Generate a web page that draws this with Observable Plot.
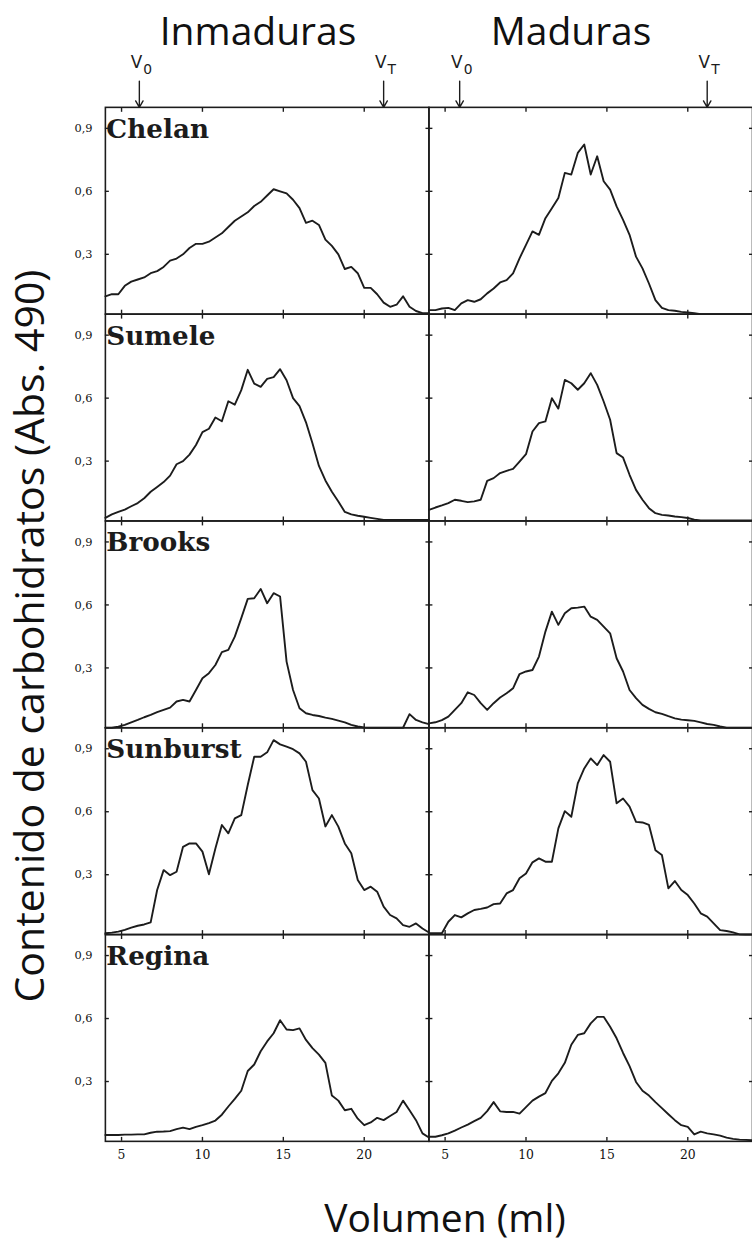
<!DOCTYPE html>
<html>
<head>
<meta charset="utf-8">
<script src="https://cdn.jsdelivr.net/npm/d3@7"></script>
<script src="https://cdn.jsdelivr.net/npm/@observablehq/plot@0.6"></script>
<style>
  body { margin: 0; background: #fff; }
  #wrap { position: relative; width: 752px; height: 1247px; overflow: hidden; background: #fff; font-family: "Open Sans", sans-serif; color: #111; }
  .t { position: absolute; white-space: nowrap; line-height: 1; }
  #plot { position: absolute; left: 0; top: 0; }
</style>
</head>
<body>
<div id="wrap">
  <div id="plot"></div>
  <div class="t" id="tInm" style="left:258px;top:10px;font-size:39px;transform:translateX(-50%);">Inmaduras</div>
  <div class="t" id="tMad" style="left:571px;top:10px;font-size:39px;transform:translateX(-50%);">Maduras</div>
  <div class="t" id="yLab" style="left:29px;top:636px;font-size:41px;line-height:1.1;transform:translate(-50%,-50%) rotate(-90deg);">Contenido de carbohidratos (Abs. 490)</div>
  <div class="t" id="xLab" style="left:445px;top:1197px;font-size:39px;transform:translateX(-50%);">Volumen (ml)</div>
</div>
<script>
// ---- data ----
const cultivars = ["Chelan", "Sumele", "Brooks", "Sunburst", "Regina"];
const stages = ["Inmaduras", "Maduras"];
const xTicks = [5, 10, 15, 20];
const yTicks = [0.3, 0.6, 0.9];

// elution volume (ml) of each reading
const vol = [4.0,4.4,4.8,5.2,5.6,6.0,6.4,6.8,7.2,7.6,8.0,8.4,8.8,9.2,9.6,10.0,10.4,10.8,11.2,11.6,12.0,12.4,12.8,13.2,13.6,14.0,14.4,14.8,15.2,15.6,16.0,16.4,16.8,17.2,17.6,18.0,18.4,18.8,19.2,19.6,20.0,20.4,20.8,21.2,21.6,22.0,22.4,22.8,23.2,23.6,24.0];

const chelanInm = [0.10,0.11,0.11,0.15,0.17,0.18,0.19,0.21,0.22,0.24,0.27,0.28,0.30,0.33,0.35,0.35,0.36,0.38,0.40,0.43,0.46,0.48,0.50,0.53,0.55,0.58,0.61,0.60,0.59,0.56,0.52,0.45,0.46,0.44,0.37,0.34,0.30,0.23,0.24,0.21,0.14,0.14,0.11,0.07,0.05,0.06,0.10,0.05,0.03,0.02,0.02];
const chelanMad = [0.034,0.034,0.042,0.045,0.034,0.066,0.082,0.074,0.086,0.114,0.137,0.166,0.177,0.209,0.281,0.345,0.409,0.393,0.472,0.52,0.568,0.688,0.68,0.783,0.823,0.68,0.767,0.648,0.608,0.528,0.464,0.393,0.289,0.233,0.161,0.082,0.045,0.034,0.031,0.026,0.023,0.02,0.015,0.015,0.015,0.015,0.015,0.015,0.015,0.015,0.015];
const sumeleInm = [0.03,0.046,0.058,0.069,0.085,0.10,0.123,0.154,0.177,0.20,0.231,0.285,0.30,0.331,0.377,0.438,0.454,0.508,0.49,0.585,0.569,0.638,0.735,0.669,0.654,0.692,0.70,0.738,0.685,0.60,0.562,0.485,0.385,0.277,0.208,0.154,0.108,0.058,0.046,0.04,0.035,0.03,0.025,0.02,0.02,0.02,0.02,0.02,0.02,0.02,0.02];
const sumeleMad = [0.068,0.079,0.089,0.10,0.116,0.111,0.105,0.108,0.116,0.206,0.219,0.243,0.254,0.263,0.298,0.333,0.441,0.481,0.489,0.60,0.55,0.687,0.671,0.64,0.671,0.719,0.663,0.584,0.497,0.338,0.317,0.235,0.163,0.116,0.076,0.052,0.044,0.041,0.036,0.033,0.029,0.021,0.018,0.018,0.018,0.018,0.018,0.018,0.018,0.018,0.018];
const brooksInm = [0.015,0.015,0.02,0.029,0.041,0.052,0.065,0.076,0.089,0.10,0.111,0.14,0.148,0.14,0.195,0.251,0.275,0.314,0.375,0.386,0.449,0.537,0.629,0.632,0.676,0.608,0.656,0.64,0.33,0.195,0.108,0.084,0.076,0.071,0.063,0.057,0.049,0.041,0.029,0.021,0.016,0.015,0.015,0.015,0.015,0.015,0.015,0.08,0.052,0.041,0.032];
const brooksMad = [0.036,0.041,0.051,0.068,0.10,0.132,0.184,0.171,0.132,0.10,0.132,0.159,0.179,0.203,0.271,0.283,0.29,0.354,0.473,0.568,0.505,0.56,0.584,0.587,0.592,0.544,0.529,0.497,0.465,0.346,0.283,0.195,0.156,0.124,0.105,0.089,0.081,0.07,0.06,0.054,0.051,0.048,0.041,0.033,0.029,0.021,0.015,0.015,0.015,0.015,0.015];
const sunburstInm = [0.021,0.024,0.029,0.037,0.048,0.057,0.063,0.073,0.227,0.322,0.298,0.314,0.433,0.449,0.449,0.41,0.302,0.425,0.537,0.497,0.568,0.584,0.727,0.862,0.862,0.883,0.941,0.921,0.91,0.898,0.878,0.838,0.703,0.663,0.53,0.584,0.529,0.449,0.402,0.275,0.227,0.243,0.219,0.148,0.108,0.092,0.06,0.052,0.068,0.044,0.025];
const sunburstMad = [0.021,0.021,0.021,0.076,0.108,0.097,0.116,0.132,0.137,0.144,0.16,0.163,0.211,0.227,0.283,0.306,0.359,0.378,0.362,0.362,0.521,0.603,0.576,0.735,0.806,0.854,0.822,0.87,0.838,0.64,0.663,0.624,0.552,0.549,0.537,0.417,0.394,0.235,0.27,0.227,0.203,0.163,0.116,0.10,0.068,0.036,0.032,0.025,0.016,0.015,0.015];
const reginaInm = [0.045,0.045,0.045,0.047,0.047,0.048,0.048,0.056,0.061,0.062,0.064,0.073,0.08,0.073,0.084,0.092,0.102,0.114,0.142,0.181,0.217,0.256,0.35,0.381,0.444,0.491,0.53,0.592,0.548,0.545,0.553,0.498,0.459,0.428,0.389,0.233,0.209,0.163,0.17,0.123,0.092,0.105,0.127,0.116,0.136,0.155,0.209,0.163,0.116,0.053,0.033];
const reginaMad = [0.037,0.037,0.044,0.053,0.066,0.081,0.095,0.111,0.127,0.159,0.202,0.158,0.155,0.155,0.147,0.178,0.209,0.228,0.245,0.303,0.339,0.389,0.475,0.522,0.53,0.577,0.608,0.608,0.561,0.506,0.436,0.373,0.298,0.256,0.233,0.202,0.173,0.144,0.116,0.092,0.084,0.048,0.061,0.053,0.048,0.042,0.033,0.027,0.023,0.022,0.02];

// V0 / VT markers
const markerStage = ["Inmaduras", "Inmaduras", "Maduras", "Maduras"];
const markerSub = ["0", "T", "0", "T"];
const markerVol = [6.1, 21.2, 5.9, 21.2];

// ---- tables built from the arrays ----
const seriesList = [
  ["Chelan", "Inmaduras", chelanInm], ["Chelan", "Maduras", chelanMad],
  ["Sumele", "Inmaduras", sumeleInm], ["Sumele", "Maduras", sumeleMad],
  ["Brooks", "Inmaduras", brooksInm], ["Brooks", "Maduras", brooksMad],
  ["Sunburst", "Inmaduras", sunburstInm], ["Sunburst", "Maduras", sunburstMad],
  ["Regina", "Inmaduras", reginaInm], ["Regina", "Maduras", reginaMad]
];
const rows = [];
for (const [cultivar, stage, vals] of seriesList) {
  vals.forEach((a, i) => rows.push({cultivar, stage, vol: vol[i], abs: a}));
}
const markers = markerVol.map((v, i) => ({stage: markerStage[i], vol: v, sub: markerSub[i]}));

const ink = "#1c1c1c";
const chart = Plot.plot({
  width: 760,
  height: 1190,
  marginTop: 106,
  marginLeft: 105,
  marginRight: 0,
  marginBottom: 35,
  x: {domain: [4, 24]},
  y: {domain: [0.015, 1.0]},
  fx: {domain: stages, padding: 0, axis: null},
  fy: {domain: cultivars, padding: 0, axis: null},
  style: {background: "white", color: ink, fontSize: "12px"},
  marks: [
    Plot.frame({stroke: ink, strokeWidth: 1.6}),
    Plot.axisX({anchor: "top", facetAnchor: null, ticks: xTicks, tickSize: -4, fill: "none", label: null, strokeWidth: 1.4}),
    Plot.axisX({anchor: "bottom", facetAnchor: null, ticks: xTicks, tickSize: -4, fill: "none", label: null, strokeWidth: 1.4}),
    Plot.axisY({anchor: "left", facetAnchor: null, ticks: yTicks, tickSize: -4, fill: "none", label: null, strokeWidth: 1.4}),
    Plot.axisY({anchor: "right", facetAnchor: null, ticks: yTicks, tickSize: -4, fill: "none", label: null, strokeWidth: 1.4}),
    Plot.axisX({anchor: "bottom", ticks: xTicks, tickSize: 0, tickPadding: 9, label: null, fontSize: 12.5, fontFamily: "DejaVu Serif", fill: "#111"}),
    Plot.axisY({anchor: "left", ticks: yTicks, tickSize: 0, tickPadding: 13, label: null, fontSize: 11.5, fontFamily: "DejaVu Serif", fill: "#111",
      tickFormat: d => d.toFixed(1).replace(".", ",")}),
    Plot.line(rows, {x: "vol", y: "abs", fx: "stage", fy: "cultivar", z: d => d.cultivar + d.stage,
      stroke: ink, strokeWidth: 1.9, strokeLinejoin: "round"}),
    Plot.text(cultivars, {fx: () => stages[0], fy: d => d, text: d => d, frameAnchor: "top-left", lineAnchor: "top",
      textAnchor: "start", dx: 1, dy: 12, fontFamily: "DejaVu Serif", fontWeight: "bold", fontSize: 26.5, fill: ink}),
    Plot.arrow(markers, {x: "vol", y1: () => 1.125, y2: () => 1.0, fx: "stage", fy: () => cultivars[0],
      stroke: ink, strokeWidth: 1.4, headLength: 8, headAngle: 60}),
    Plot.text(markers, {x: "vol", y: () => 1.213, fx: "stage", fy: () => cultivars[0], text: () => "V",
      dx: -3, fontFamily: "DejaVu Sans", fontSize: 17, fill: ink}),
    Plot.text(markers, {x: "vol", y: () => 1.178, fx: "stage", fy: () => cultivars[0], text: "sub",
      dx: 4, textAnchor: "start", fontFamily: "DejaVu Sans", fontSize: 14, fill: ink})
  ]
});
document.getElementById("plot").appendChild(chart);
</script>
</body>
</html>
